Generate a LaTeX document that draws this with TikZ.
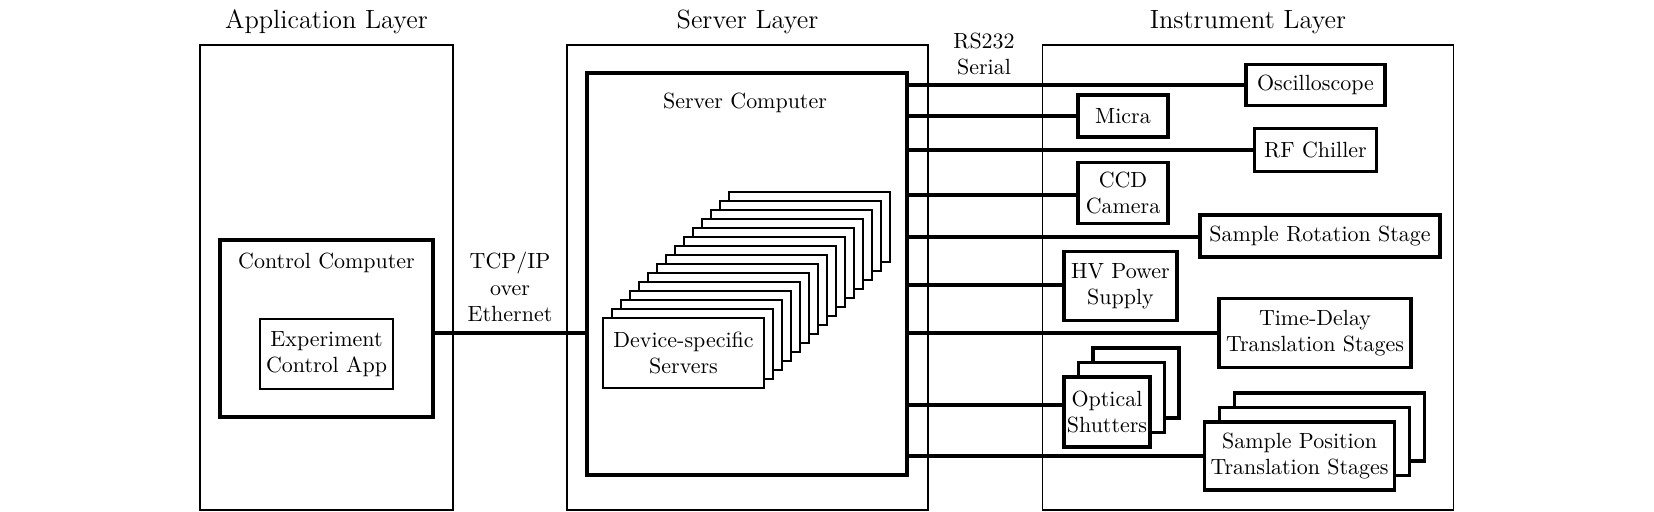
\documentclass[tikz,border=0pt]{standalone}
\usepackage{tikz}
\usetikzlibrary{positioning,calc}
\newlength{\pxu}
\setlength{\pxu}{0.455pt}
\tikzset{
  layer/.style={draw, thick},
  machine/.style={draw, line width=1.8pt},
  instr/.style={draw, line width=1.8pt, fill=white, align=center, inner sep=1pt},
  soft/.style={draw, thick, fill=white, align=center, inner sep=1pt},
  link/.style={line width=1.8pt},
  boxsize/.style 2 args={minimum width=#1\pxu, minimum height=#2\pxu},
}

\begin{document}
\begin{tikzpicture}[x=\pxu, y=-\pxu]
    \useasboundingbox (0,0) rectangle (1654,512);
    % Layers
    \node[layer, boxsize={253}{465}] (applayer) at (326.5,277.5) {};
    \node[layer, boxsize={361}{465}] (srvlayer) at (747.5,277.5) {};
    \node[layer, boxsize={411}{465}] (instlayer) at (1248,277.5) {};
    \node[font=\large] (apptitle) at (326.5,22) {Application Layer};
    \node[font=\large] (srvtitle) at (747.5,22) {Server Layer};
    \node[font=\large] (insttitle) at (1248,22) {Instrument Layer};
    % Application side
    \node[machine, boxsize={213}{177}] (ctrlpc) at (326.5,328.5) {};
    \node (ctrlname) at (326.5,263) {Control Computer};
    \node[soft, boxsize={133}{70}] (expapp) at (326.5,354) {Experiment\\Control App};
    % Server side
    \node[machine, boxsize={320}{402}] (srvpc) at (747,274) {};
    \node (srvname) at (745,103) {Server Computer};
    \foreach \i in {14,...,1} {
      \node[soft, boxsize={161}{70}] (dev\i) at (683.5+9*\i, 353-9*\i) {};
    }
    \node[soft, boxsize={161}{70}] (dev0) at (683.5,353) {Device-specific\\Servers};
    % Link labels
    \node[align=center] (tcplab) at (510,287) {TCP/IP\\over\\Ethernet};
    \node[align=center] (rslab) at (984,54) {RS232\\Serial};
    % Instruments
    \node[instr, boxsize={139}{41}] (osc) at (1315.5,85) {Oscilloscope};
    \node[instr, boxsize={90}{42}] (micra) at (1123,116) {Micra};
    \node[instr, boxsize={122}{43}] (chiller) at (1315.5,150) {RF Chiller};
    \node[instr, boxsize={90}{61}] (ccd) at (1123,193) {CCD\\Camera};
    \node[instr, boxsize={240}{42}] (rot) at (1320,236) {Sample Rotation Stage};
    \node[instr, boxsize={113}{69}] (hv) at (1120.5,286) {HV Power\\Supply};
    \node[instr, boxsize={192}{69}] (delay) at (1315,333) {Time-Delay\\Translation Stages};
    \foreach \i in {2,1} {
      \node[instr, boxsize={86}{70}] (shut\i) at (1107+14.5*\i, 412-14.5*\i) {};
      \node[instr, boxsize={190}{68}] (pos\i) at (1299.5+15*\i, 456-14.5*\i) {};
    }
    \node[instr, boxsize={86}{70}] (shut0) at (1107,412) {Optical\\Shutters};
    \node[instr, boxsize={190}{68}] (pos0) at (1299.5,456) {Sample Position\\Translation Stages};
    % Links
    \draw[link] ([yshift=-2pt]ctrlpc.east) -- ([yshift=-2pt]ctrlpc.east -| srvpc.west);
    \foreach \n/\dy in {osc/0pt, micra/0pt, chiller/0pt, ccd/-0.9pt, rot/-0.5pt, hv/0.5pt, delay/0pt, shut0/3.2pt, pos0/0pt} {
      \draw[link] ([yshift=\dy]\n.west) -- ([yshift=\dy]\n.west -| srvpc.east);
    }
\end{tikzpicture}
\end{document}
